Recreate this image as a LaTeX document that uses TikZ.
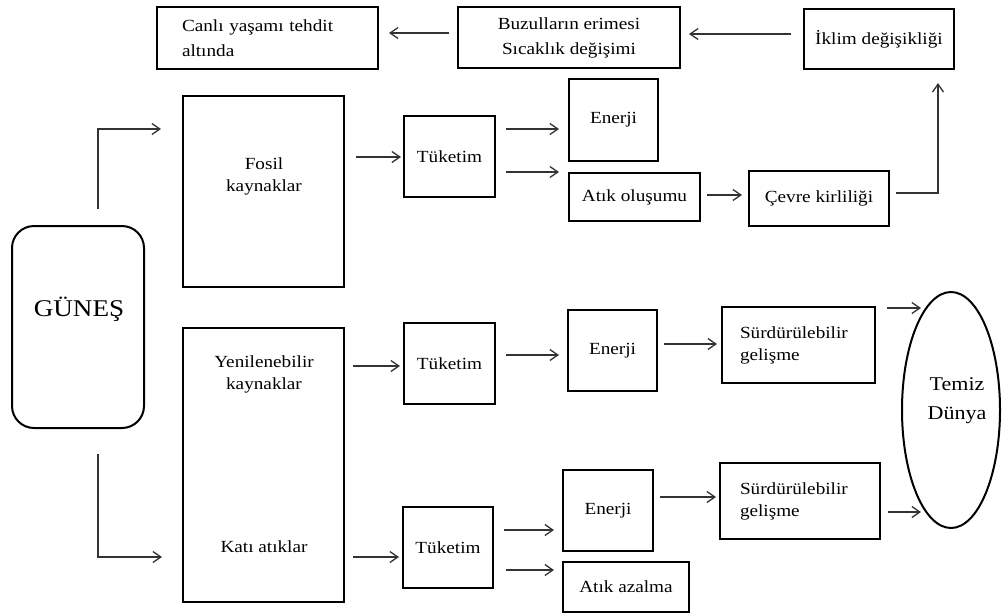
\documentclass[tikz,border=0pt]{standalone}
\usepackage{fontspec}
\setmainfont{Liberation Serif}[FakeStretch=1.13]
\usetikzlibrary{arrows.meta,calc,shapes.geometric}
\begin{document}
\begin{tikzpicture}[x=1pt,y=-1pt,
  every node/.style={font=\fontsize{17}{22}\selectfont, text=black},
  box/.style={draw=black, line width=2pt, inner sep=0pt, align=center},
  txt/.style={inner sep=0pt, align=center},
  arr/.style={draw=black!80, line width=1.3pt, -{Straight Barb[length=8pt,width=11pt]}},
]
\useasboundingbox (0,0) rectangle (1004,614);
\fill[white] (0,0) rectangle (1004,614);

% top row
\node[box, minimum width=221pt, minimum height=62pt, text width=171pt, align=left] (canli) at (267.5,38) {Canlı yaşamı tehdit\\[3pt]altında};
\node[box, minimum width=222pt, minimum height=61pt] (buzul) at (569,37.5) {Buzulların erimesi\\[3pt]Sıcaklık değişimi};
\node[box, minimum width=150pt, minimum height=60pt] (iklim) at (879,39) {İklim değişikliği};

% source
\node[box, rounded corners=22pt, minimum width=132pt, minimum height=202pt] (gunes) at (78,327) {};
\node[txt, font=\fontsize{24}{28}\selectfont] (gunest) at (79,309) {GÜNEŞ};

% resource boxes
\node[box, minimum width=161pt, minimum height=191pt] (fosil) at (263.5,191.5) {};
\node[txt] (fosilt) at (264,176) {Fosil\\kaynaklar};
\node[box, minimum width=161pt, minimum height=274pt] (yen) at (263.5,465) {};
\node[txt] (yent) at (264,374) {Yenilenebilir\\kaynaklar};
\node[txt] (katit) at (264,547) {Katı atıklar};

% fossil branch
\node[box, minimum width=91pt, minimum height=81pt] (tuk1) at (449.5,156.5) {Tüketim};
\node[box, minimum width=89pt, minimum height=82pt] (en1) at (613.5,120) {Enerji};
\node[box, minimum width=131pt, minimum height=48pt] (atik1) at (634.5,197) {Atık oluşumu};
\node[box, minimum width=140pt, minimum height=55pt] (cevre) at (819,198.5) {Çevre kirliliği};

% renewable branch
\node[box, minimum width=91pt, minimum height=81pt] (tuk2) at (449.5,363.5) {Tüketim};
\node[box, minimum width=89pt, minimum height=81pt] (en2) at (612.5,350.5) {Enerji};
\node[box, minimum width=153pt, minimum height=76pt, text width=117pt, align=left] (surd1) at (798.5,345) {Sürdürülebilir\\gelişme};

% solid waste branch
\node[box, minimum width=90pt, minimum height=81pt] (tuk3) at (448,547.5) {Tüketim};
\node[box, minimum width=90pt, minimum height=81pt] (en3) at (608,510.5) {Enerji};
\node[box, minimum width=126pt, minimum height=50pt] (azal) at (626,587) {Atık azalma};
\node[box, minimum width=160pt, minimum height=76pt, text width=120pt, align=left] (surd2) at (800,501) {Sürdürülebilir\\gelişme};

% goal
\node[draw=black, line width=2pt, ellipse, inner sep=0pt, minimum width=98pt, minimum height=236pt] (temiz) at (951,410) {};
\node[txt, font=\fontsize{19.5}{29}\selectfont] (temizt) at (957,401) {Temiz\\Dünya};

% connectors: top row
\draw[arr] ($(iklim.west)+(-12,-5)$) coordinate (p1) -- ($(buzul.east|-p1)+(8,0)$);
\draw[arr] ($(buzul.west)+(-8,-4.5)$) coordinate (p2) -- ($(canli.east|-p2)+(10,0)$);

% connectors: sun to resources
\draw[arr] ($(gunes.north)+(20,-16)$) |- ($(fosil.west)+(-21,-62.5)$);
\draw[arr] ($(gunes.south)+(20,25)$) |- ($(yen.west)+(-20,92)$);

% connectors: fossil branch
\draw[arr] ($(fosil.east)+(11,-34.5)$) coordinate (a1) -- ($(tuk1.west|-a1)+(-2,0)$);
\draw[arr] ($(tuk1.east)+(10,-27.5)$) coordinate (a2) -- ($(en1.west|-a2)+(-9,0)$);
\draw[arr] ($(tuk1.east)+(10,15.5)$) coordinate (a3) -- ($(atik1.west|-a3)+(-9,0)$);
\draw[arr] ($(atik1.east)+(6,-2)$) coordinate (a4) -- ($(cevre.west|-a4)+(-6,0)$);
\draw[arr] ($(cevre.east)+(6,-5.5)$) -| ($(iklim.south)+(59,13)$);

% connectors: renewable branch
\draw[arr] ($(yen.east)+(8,-99)$) coordinate (b1) -- ($(tuk2.west|-b1)+(-3,0)$);
\draw[arr] ($(tuk2.east)+(10,-8.5)$) coordinate (b2) -- ($(en2.west|-b2)+(-8,0)$);
\draw[arr] ($(en2.east)+(6,-6.5)$) coordinate (b3) -- ($(surd1.west|-b3)+(-4,0)$);
\draw[arr] ($(surd1.east)+(11,-37)$) coordinate (b4) -- ($(temiz.west|-b4)+(20,0)$);

% connectors: solid waste branch
\draw[arr] ($(yen.east)+(8,92)$) coordinate (c1) -- ($(tuk3.west|-c1)+(-3,0)$);
\draw[arr] ($(tuk3.east)+(10,-17.5)$) coordinate (c2) -- ($(en3.west|-c2)+(-8,0)$);
\draw[arr] ($(tuk3.east)+(12,22.5)$) coordinate (c3) -- ($(azal.west|-c3)+(-8,0)$);
\draw[arr] ($(en3.east)+(6,-13.5)$) coordinate (c4) -- ($(surd2.west|-c4)+(-3,0)$);
\draw[arr] ($(surd2.east)+(7,11)$) coordinate (c5) -- ($(temiz.west|-c5)+(20,0)$);
\end{tikzpicture}
\end{document}
